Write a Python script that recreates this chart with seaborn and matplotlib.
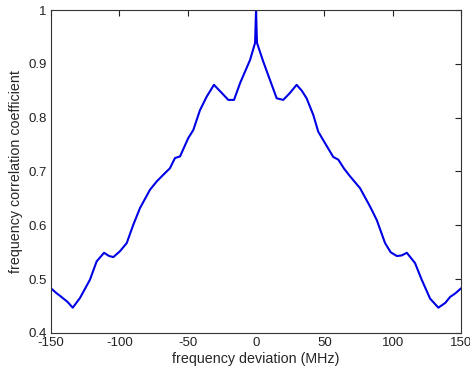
import numpy as np
import pandas as pd
import seaborn as sns
import matplotlib.pyplot as plt

# frequency deviation (MHz) and correlation coefficient
freq = [-150, -146, -143.4, -138, -134.1, -128.8, -121.5, -116.6, -111.2, -107.5,
        -104.4, -99.5, -94.6, -89.8, -84.9, -77.6, -72.5, -67.8, -63.0, -59.3,
        -55.6, -49.6, -45.9, -41.0, -36.1, -30.8, -25.1, -20.3, -16.1, -11.7,
        -4.4, -0.7, 0.0,
        0.7, 5.3, 10.2, 15.1, 19.9, 24.5, 29.7, 33.5, 37.0, 41.9, 45.5, 50.4,
        56.5, 60.2, 64.5, 68.8, 76.1, 83.4, 88.3, 94.4, 98.5, 103.0, 106.5,
        110.3, 116.3, 121.2, 127.3, 133.4, 138.5, 142.0, 146.0, 150.0]
corr = [0.483, 0.474, 0.469, 0.458, 0.447, 0.465, 0.499, 0.533, 0.549, 0.543,
        0.541, 0.552, 0.567, 0.601, 0.632, 0.666, 0.682, 0.694, 0.706, 0.725,
        0.728, 0.762, 0.777, 0.814, 0.839, 0.861, 0.846, 0.833, 0.833, 0.864,
        0.907, 0.939, 1.0,
        0.939, 0.904, 0.870, 0.836, 0.833, 0.845, 0.861, 0.850, 0.836, 0.805,
        0.774, 0.753, 0.727, 0.722, 0.705, 0.691, 0.669, 0.635, 0.610, 0.567,
        0.550, 0.543, 0.544, 0.549, 0.530, 0.499, 0.464, 0.447, 0.456, 0.467,
        0.474, 0.483]

xticks = [-150, -100, -50, 0, 50, 100, 150]
yticks = [0.4, 0.5, 0.6, 0.7, 0.8, 0.9, 1.0]
ytick_labels = ["0.4", "0.5", "0.6", "0.7", "0.8", "0.9", "1"]

df = pd.DataFrame({"f": freq, "c": corr})

sns.set_style("white")
plt.rcParams['font.family'] = ['Liberation Sans', 'DejaVu Sans']

fig = plt.figure(figsize=(4.7, 3.76), dpi=100)
ax = fig.add_axes([0.1085, 0.1144, 0.8725, 0.859])

sns.lineplot(data=df, x="f", y="c", ax=ax, color="#0000e6", linewidth=1.5,
             sort=False, estimator=None)

ax.set_xlim(-150, 150)
ax.set_ylim(0.4, 1.0)
ax.set_xticks(xticks)
ax.set_xticklabels([str(t) for t in xticks])
ax.set_yticks(yticks)
ax.set_yticklabels(ytick_labels)
ax.tick_params(direction="in", top=True, right=True, length=4, width=0.8,
               labelsize=9.5, colors="#222222", pad=3)
for s in ax.spines.values():
    s.set_color("#333333")
    s.set_linewidth(0.8)

ax.set_xlabel("frequency deviation (MHz)", fontsize=10.3, labelpad=2)
ax.set_ylabel("frequency correlation coefficient", fontsize=10.3, labelpad=4)

fig.savefig("out.png", dpi=100)
